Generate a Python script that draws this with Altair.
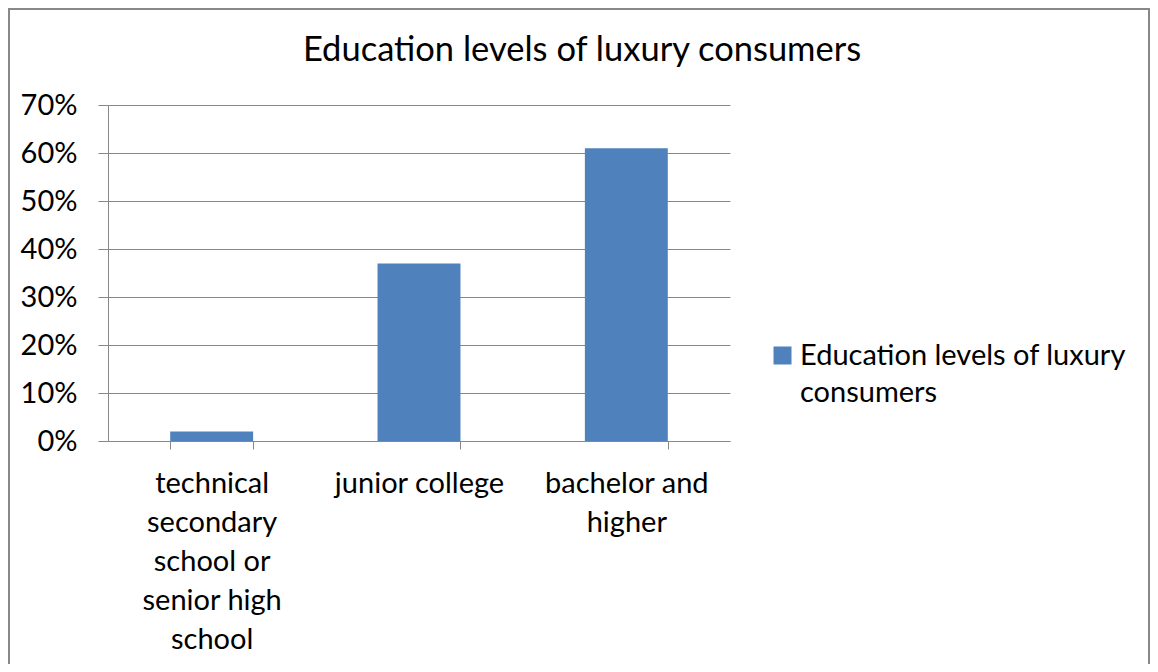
import altair as alt
import pandas as pd

categories = [
    "technical secondary school or senior high school",
    "junior college",
    "bachelor and higher",
]
values = [0.02, 0.37, 0.61]
series_name = "Education levels of luxury consumers"
label_lines = [
    ["technical", "secondary", "school or", "senior high", "school"],
    ["junior college"],
    ["bachelor and", "higher"],
]
legend_lines = ["Education levels of luxury", "consumers"]
y_ticks = [0, 0.1, 0.2, 0.3, 0.4, 0.5, 0.6, 0.7]

df = pd.DataFrame({"category": categories, "value": values, "series": [series_name] * 3})

def arr(lines):
    return "[" + ",".join("'" + s + "'" for s in lines) + "]"

expr = "''"
for c, lines in reversed(list(zip(categories, label_lines))):
    expr = f"datum.label == '{c}' ? {arr(lines)} : ({expr})"

FONT = "Lato"
GRAY = "#888888"
FS = 29

bars = alt.Chart(df).mark_bar(color="#4F81BD").encode(
    x=alt.X(
        "category:N",
        sort=categories,
        title=None,
        scale=alt.Scale(paddingInner=0.6, paddingOuter=0.3),
        axis=alt.Axis(
            tickBand="extent",
            labelExpr=expr,
            labelAngle=0,
            labelFontSize=FS,
            labelLineHeight=39,
            labelPadding=20,
            labelBaseline="top",
            labelColor="black",
            labelFont=FONT,
            tickSize=8,
            tickColor=GRAY,
            domainColor=GRAY,
            grid=False,
            labelLimit=400,
        ),
    ),
    y=alt.Y(
        "value:Q",
        title=None,
        scale=alt.Scale(domain=[0, 0.7], nice=False),
        axis=alt.Axis(
            values=y_ticks,
            format=".0%",
            labelFontSize=FS,
            labelFont=FONT,
            labelColor="black",
            labelPadding=21,
            tickSize=10,
            tickColor=GRAY,
            domainColor=GRAY,
            gridColor=GRAY,
            grid=True,
        ),
    ),
    color=alt.Color(
        "series:N",
        scale=alt.Scale(range=["#4F81BD"]),
        legend=alt.Legend(
            title=None,
            orient="none",
            legendX=660,
            legendY=236,
            symbolType="square",
            symbolSize=324,
            symbolStrokeWidth=0,
            labelFontSize=FS,
            labelFont=FONT,
            labelColor="black",
            labelExpr=arr(legend_lines),
            labelLimit=500,
            labelOffset=3,
        ),
    ),
)

border = alt.Chart(pd.DataFrame({"k": [0]})).mark_rect(
    filled=False, stroke=GRAY, strokeWidth=2
).encode(
    x=alt.value(-99), x2=alt.value(1041), y=alt.value(-96), y2=alt.value(700)
)

chart = alt.layer(border, bars).properties(
    width=622,
    height=336,
    padding={"left": 100, "top": 97, "right": 420, "bottom": 223},
    autosize=alt.AutoSizeParams(type="none"),
    title=alt.TitleParams(
        series_name,
        anchor="middle",
        dx=163,
        offset=-60,
        fontSize=34.5,
        font=FONT,
        fontWeight="normal",
        color="black",
    ),
).configure(
    view=alt.ViewConfig(stroke=None),
    style={"guide-label": {"lineHeight": 37}},
)

chart.save("out.html", embed_options={"renderer": "svg", "actions": False})
